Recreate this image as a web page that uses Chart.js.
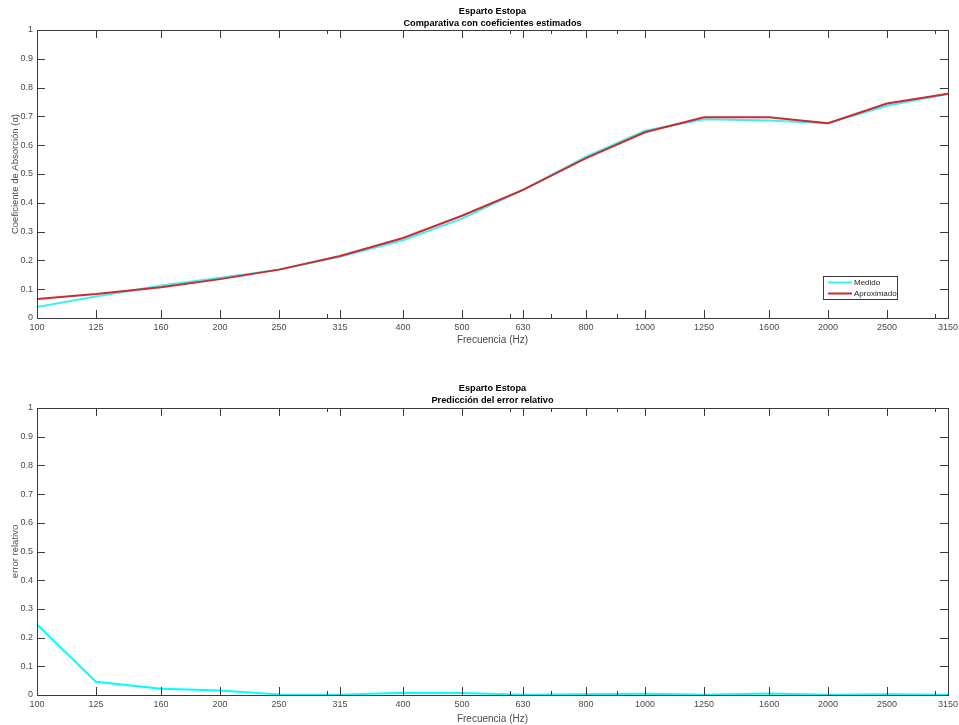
<!DOCTYPE html>
<html>
<head>
<meta charset="utf-8">
<script src="https://cdn.jsdelivr.net/npm/chart.js@4.4.1/dist/chart.umd.min.js"></script>
<style>
  body { margin: 0; background: #fff; }
  canvas { display: block; }
</style>
</head>
<body>
<canvas id="arriba" width="959" height="362"></canvas>
<canvas id="abajo" width="959" height="363"></canvas>
<script>
const frecuencias = [100, 125, 160, 200, 250, 315, 400, 500, 630, 800, 1000, 1250, 1600, 2000, 2500, 3150];
const medido = [0.038, 0.075, 0.113, 0.140, 0.168, 0.213, 0.270, 0.345, 0.445, 0.560, 0.650, 0.690, 0.686, 0.676, 0.737, 0.778];
const aproximado = [0.066, 0.083, 0.107, 0.135, 0.168, 0.215, 0.278, 0.355, 0.445, 0.555, 0.645, 0.697, 0.697, 0.676, 0.745, 0.779];
const errorRelativo = [0.246, 0.046, 0.022, 0.016, 0.002, 0.001, 0.008, 0.007, 0.001, 0.003, 0.004, 0.001, 0.005, 0.001, 0.003, 0.001];
const ticksMenores = [300, 600, 700, 900, 3000];

const fuente = "'Liberation Sans', Arial, Helvetica, sans-serif";
const grisTexto = "#4a4a4a";
const grisEje = "#3a3a3a";

// marco de ejes estilo MATLAB con marcas hacia dentro
const marco = {
    id: "marco",
    afterDraw(chart) {
        const { ctx, chartArea: a, scales } = chart;
        const x = scales.x, y = scales.y;
        ctx.save();
        ctx.strokeStyle = grisEje;
        ctx.lineWidth = 1;
        ctx.strokeRect(Math.round(a.left) + 0.5, Math.round(a.top) + 0.5,
            Math.round(a.right - a.left), Math.round(a.bottom - a.top));
        ctx.beginPath();
        const marcaX = (v, largo) => {
            const px = Math.round(x.getPixelForValue(v)) + 0.5;
            ctx.moveTo(px, a.bottom); ctx.lineTo(px, a.bottom - largo);
            ctx.moveTo(px, a.top); ctx.lineTo(px, a.top + largo);
        };
        frecuencias.forEach(v => marcaX(v, 8));
        ticksMenores.forEach(v => marcaX(v, 4));
        y.ticks.forEach(t => {
            const py = Math.round(y.getPixelForValue(t.value)) + 0.5;
            ctx.moveTo(a.left, py); ctx.lineTo(a.left + 8, py);
            ctx.moveTo(a.right, py); ctx.lineTo(a.right - 8, py);
        });
        ctx.stroke();
        ctx.restore();
    }
};

// leyenda dentro del area de la grafica
const leyenda = {
    id: "leyenda",
    afterDraw(chart, args, opts) {
        if (!opts.mostrar) return;
        const { ctx, chartArea: a } = chart;
        const x0 = a.right - 125, y0 = a.bottom - 42, w = 74, h = 23;
        ctx.save();
        ctx.fillStyle = "#fff";
        ctx.fillRect(x0, y0, w, h);
        ctx.strokeStyle = grisEje;
        ctx.lineWidth = 1;
        ctx.strokeRect(x0 + 0.5, y0 + 0.5, w, h);
        ctx.font = "8px " + fuente;
        ctx.textBaseline = "middle";
        chart.data.datasets.forEach((ds, i) => {
            const yy = y0 + 6.5 + i * 11;
            ctx.strokeStyle = ds.borderColor;
            ctx.lineWidth = 2;
            ctx.beginPath();
            ctx.moveTo(x0 + 5, yy); ctx.lineTo(x0 + 29, yy);
            ctx.stroke();
            ctx.fillStyle = "#222";
            ctx.fillText(ds.label, x0 + 31, yy);
        });
        ctx.restore();
    }
};

function escalas(tituloY, altoEjeX) {
    return {
        x: {
            type: "logarithmic",
            min: 100,
            max: 3150,
            afterBuildTicks: s => { s.ticks = frecuencias.map(v => ({ value: v })); },
            afterFit: s => { s.height = altoEjeX; s.paddingLeft = 0; s.paddingRight = 0; },
            grid: { display: false, drawTicks: false },
            border: { display: false },
            ticks: {
                autoSkip: false, maxRotation: 0, padding: 4,
                color: grisTexto, font: { family: fuente, size: 9 },
                callback: v => String(v)
            },
            title: {
                display: true, text: "Frecuencia (Hz)", color: grisTexto,
                font: { family: fuente, size: 10 }, padding: { top: 2, bottom: 0 }
            }
        },
        y: {
            min: 0,
            max: 1,
            afterFit: s => { s.width = 37; },
            grid: { display: false, drawTicks: false },
            border: { display: false },
            ticks: {
                stepSize: 0.1, padding: 4,
                color: grisTexto, font: { family: fuente, size: 9 },
                callback: v => String(+v.toFixed(1))
            },
            title: {
                display: true, text: tituloY, color: grisTexto,
                font: { family: fuente, size: 9.5 }, padding: { top: 10, bottom: 0 }
            }
        }
    };
}

function titulo(lineas, arriba, abajo) {
    return {
        display: true, text: lineas, color: "#000", fullSize: false,
        font: { family: fuente, size: 9.2, weight: "bold", lineHeight: "12.5px" },
        padding: { top: arriba, bottom: abajo }
    };
}

new Chart(document.getElementById("arriba"), {
    type: "line",
    data: {
        labels: frecuencias,
        datasets: [
            { label: "Medido", data: frecuencias.map((f, i) => ({ x: f, y: medido[i] })),
              borderColor: "#3ff0f0", borderWidth: 2, pointRadius: 0, tension: 0, order: 2 },
            { label: "Aproximado", data: frecuencias.map((f, i) => ({ x: f, y: aproximado[i] })),
              borderColor: "#cc2a2e", borderWidth: 2, pointRadius: 0, tension: 0, order: 1 }
        ]
    },
    options: {
        responsive: false,
        animation: false,
        layout: { padding: { left: 0, right: 11, bottom: 16, top: 0 } },
        scales: escalas("Coeficiente de Absorción (α)", 28),
        plugins: {
            legend: { display: false },
            tooltip: { enabled: false },
            title: titulo(["Esparto Estopa", "Comparativa con coeficientes estimados"], 5, 0),
            leyenda: { mostrar: true }
        }
    },
    plugins: [marco, leyenda]
});

new Chart(document.getElementById("abajo"), {
    type: "line",
    data: {
        labels: frecuencias,
        datasets: [
            { label: "Error", data: frecuencias.map((f, i) => ({ x: f, y: errorRelativo[i] })),
              borderColor: "#00ffff", borderWidth: 2, pointRadius: 0, tension: 0 }
        ]
    },
    options: {
        responsive: false,
        animation: false,
        layout: { padding: { left: 0, right: 11, bottom: 0, top: 0 } },
        scales: escalas("error relativo", 30),
        plugins: {
            legend: { display: false },
            tooltip: { enabled: false },
            title: titulo(["Esparto Estopa", "Predicción del error relativo"], 20, 1),
            leyenda: { mostrar: false }
        }
    },
    plugins: [marco, leyenda]
});
</script>
</body>
</html>
